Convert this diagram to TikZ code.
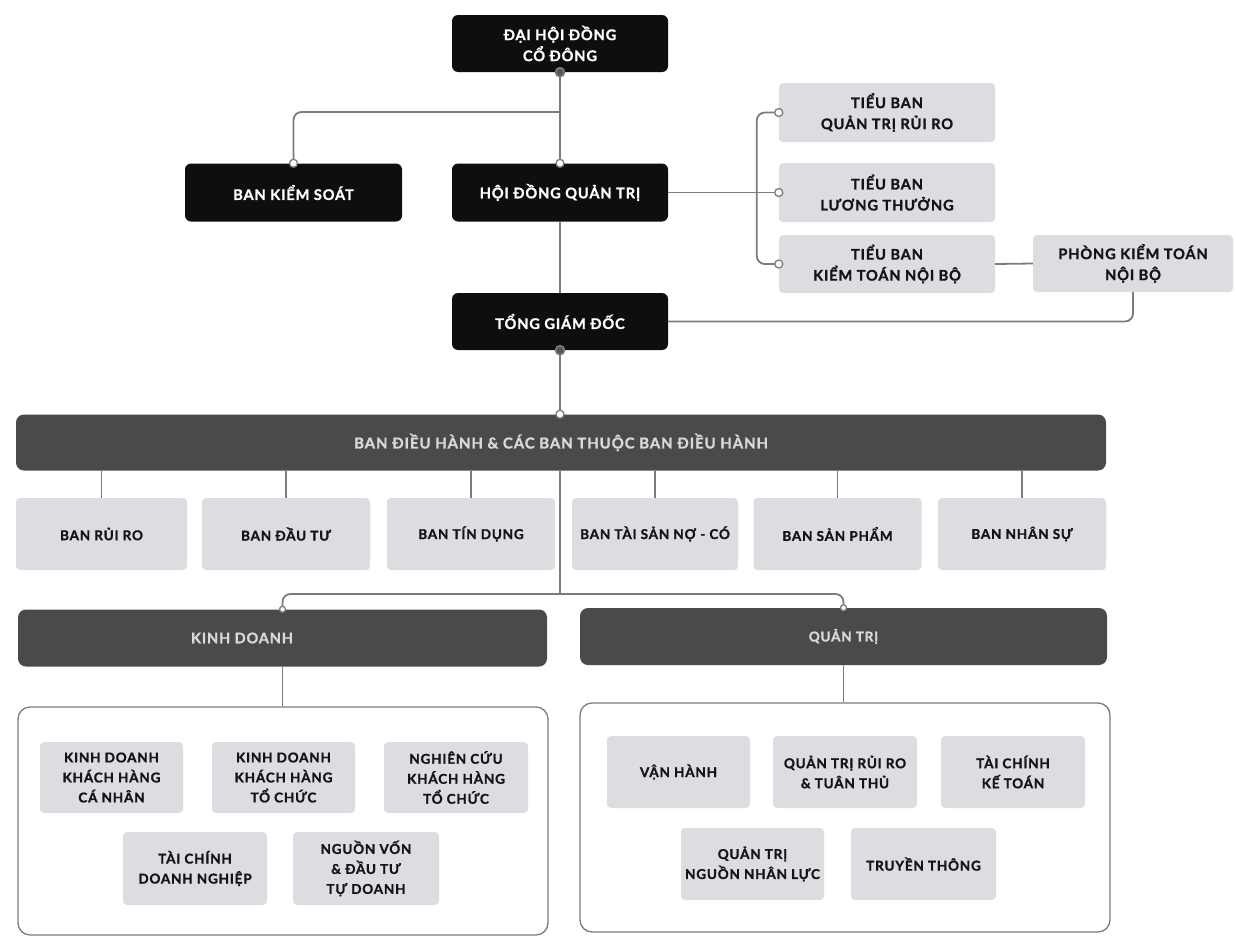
\documentclass[tikz,border=0pt]{standalone}
\usepackage{fontspec}
\setmainfont{Lato}[LetterSpace=6, BoldFeatures={FakeBold=1.2}]
\definecolor{boxgray}{HTML}{DCDDE1}
\definecolor{bargray}{HTML}{4A4A4D}
\definecolor{congray}{HTML}{7C7C7C}
\definecolor{blackbox}{HTML}{0E0E0E}
\begin{document}
\begin{tikzpicture}[x=1pt,y=-1pt,
  txt/.style={font=\bfseries\fontsize{13.5}{20}\selectfont, align=center},
  big/.style={font=\bfseries\fontsize{14.6}{21}\selectfont},
  blk/.style={txt, big, fill=blackbox, rounded corners=6pt, text=white, minimum width=216pt, minimum height=58pt, inner sep=0pt},
  gbox/.style={txt, fill=boxgray, rounded corners=4pt, text=black!92, inner sep=0pt, minimum width=#1, minimum height=70pt},
  gbox/.default=168pt,
  barbox/.style={txt, fill=bargray, rounded corners=8pt, text=white!85!black, inner sep=0pt, minimum height=56pt},
  outer/.style={draw=congray, line width=1.3pt, rounded corners=12pt, fill=white, inner sep=0pt},
  con/.style={draw=congray, line width=1.8pt, rounded corners=8pt},
  odot/.style={circle, draw=congray, fill=white, line width=1.3pt, minimum size=8pt, inner sep=0pt},
  fdot/.style={circle, draw=congray, fill=congray!70!black, line width=1.6pt, minimum size=9pt, inner sep=0pt}
]
\useasboundingbox (0,0) rectangle (1236,937);
\fill[white] (0,0) rectangle (1236,937);

% top level
\node[blk, minimum height=57pt] (dh) at (560,43.5) {ĐẠI HỘI ĐỒNG\\CỔ ĐÔNG};
\node[blk, minimum width=217pt] (bks) at (293.5,192.5) {BAN KIỂM SOÁT};
\node[blk] (hdqt) at (560,192.5) {HỘI ĐỒNG QUẢN TRỊ};
\node[blk, minimum height=57pt] (tgd) at (560,321.5) {TỔNG GIÁM ĐỐC};

% committees
\node[gbox=216pt, big, minimum height=59pt] (c1) at (887,112.5) {TIỂU BAN\\QUẢN TRỊ RỦI RO};
\node[gbox=216pt, big, minimum height=59pt] (c2) at (887,192.5) {TIỂU BAN\\LƯƠNG THƯỞNG};
\node[gbox=216pt, big, minimum height=58pt] (c3) at (887,264) {TIỂU BAN\\KIỂM TOÁN NỘI BỘ};
\node[gbox=200pt, big, minimum height=57pt] (pk) at (1133,263.5) {PHÒNG KIỂM TOÁN\\NỘI BỘ};

% executive bar
\node[barbox, font=\bfseries\fontsize{15}{20}\selectfont, minimum width=1090pt] (bar) at (561,442.5) {BAN ĐIỀU HÀNH \& CÁC BAN THUỘC BAN ĐIỀU HÀNH};

\node[gbox=171pt, minimum height=72pt] (b1) at (101.5,534) {BAN RỦI RO};
\node[gbox, minimum height=72pt] (b2) at (286,534) {BAN ĐẦU TƯ};
\node[gbox, minimum height=72pt] (b3) at (471,534) {BAN TÍN DỤNG};
\node[gbox=166pt, minimum height=72pt] (b4) at (655,534) {BAN TÀI SẢN NỢ - CÓ};
\node[gbox, minimum height=72pt] (b5) at (837.5,534) {BAN SẢN PHẨM};
\node[gbox, minimum height=72pt] (b6) at (1022,534) {BAN NHÂN SỰ};

% division bars
\node[barbox, minimum width=529pt, minimum height=57pt] (kd) at (282.5,638) {};
\node[txt, font=\bfseries\fontsize{14.5}{20}\selectfont, text=white!85!black] (kdt) at (242,638) {KINH DOANH};
\node[barbox, minimum width=527pt, minimum height=57pt] (qt) at (843.5,636.5) {QUẢN TRỊ};

% outer boxes
\node[outer, minimum width=530pt, minimum height=228pt] (kdbox) at (283,821) {};
\node[outer, minimum width=530pt, minimum height=229pt] (qtbox) at (845,817.5) {};

% KD units
\node[gbox=143pt, minimum height=71pt] (k1) at (111.5,777.5) {KINH DOANH\\KHÁCH HÀNG\\CÁ NHÂN};
\node[gbox=143pt, minimum height=71pt] (k2) at (283.5,777.5) {KINH DOANH\\KHÁCH HÀNG\\TỔ CHỨC};
\node[gbox=144pt, minimum height=71pt] (k3) at (456,777.5) {NGHIÊN CỨU\\KHÁCH HÀNG\\TỔ CHỨC};
\node[gbox=144pt, minimum height=73pt] (k4) at (195,868.5) {TÀI CHÍNH\\DOANH NGHIỆP};
\node[gbox=146pt, minimum height=73pt] (k5) at (366,868.5) {NGUỒN VỐN\\\& ĐẦU TƯ\\TỰ DOANH};

% QT units
\node[gbox=143pt, minimum height=72pt] (q1) at (678.5,772) {VẬN HÀNH};
\node[gbox=144pt, minimum height=72pt] (q2) at (845,772) {QUẢN TRỊ RỦI RO\\\& TUÂN THỦ};
\node[gbox=144pt, minimum height=72pt] (q3) at (1013,772) {TÀI CHÍNH\\KẾ TOÁN};
\node[gbox=143pt, minimum height=72pt] (q4) at (752.5,864) {QUẢN TRỊ\\NGUỒN NHÂN LỰC};
\node[gbox=145pt, minimum height=72pt] (q5) at (923.5,864) {TRUYỀN THÔNG};

% connectors
\coordinate (j1) at (560,112);
\draw[con] (dh.south) -- (hdqt.north);
\draw[con] (j1) -| (bks.north);
\draw[con] (hdqt.south) -- (tgd.north);
\draw[con] (c1.west) -- ++(-22,0) |- (c3.west);
\draw[con] (hdqt.east) -- (c2.west);
\draw[con] (c3.east) -- (pk.west);
\draw[con] (pk.south) |- (tgd.east);
\draw[con] (tgd.south) -- (tgd.south |- bar.north);
\foreach \b in {b1,b2,b3,b4,b5,b6} \draw[con] (bar.south -| \b.north) -- (\b.north);
\coordinate (j2) at (560,594);
\draw[con] (tgd.south |- bar.south) -- (j2);
\draw[con] (kd.north) |- (j2) -| (qt.north);
\draw[con] (kd.south) -- (kd.south |- kdbox.north);
\draw[con] (qt.south) -- (qt.south |- qtbox.north);

% dots
\node[fdot] (d1) at (dh.south) {};
\node[fdot] (d2) at (tgd.south) {};
\node[odot] (d3) at (bks.north) {};
\node[odot] (d4) at (hdqt.north) {};
\node[odot] (d5) at (c1.west) {};
\node[odot] (d6) at (c2.west) {};
\node[odot] (d7) at (c3.west) {};
\node[odot] (d8) at (tgd.south |- bar.north) {};
\node[odot, minimum size=6pt] (d9) at (kd.north) {};
\node[odot, minimum size=6pt] (d10) at (qt.north) {};
\end{tikzpicture}
\end{document}
